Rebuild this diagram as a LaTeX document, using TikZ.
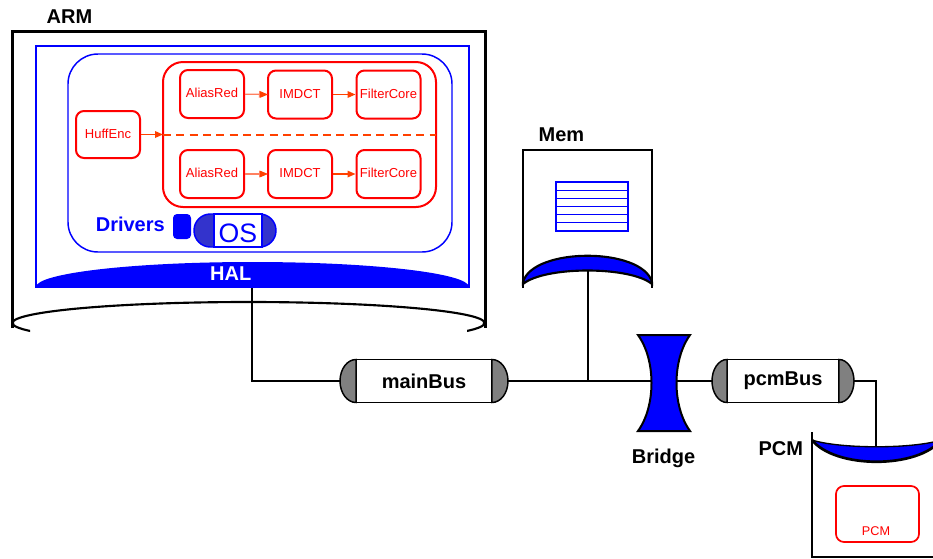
\documentclass[tikz,border=0pt]{standalone}
\usepackage{fontspec}
\setmainfont{Liberation Sans}
\usetikzlibrary{arrows.meta}
\pgfdeclarelayer{bg}
\pgfsetlayers{bg,main}
\definecolor{rd}{RGB}{255,0,0}
\definecolor{arrc}{RGB}{255,64,0}
\definecolor{arrlight}{RGB}{255,128,96}
\definecolor{bl}{RGB}{0,0,255}
\definecolor{osfill}{RGB}{51,51,204}
\definecolor{capgray}{RGB}{128,128,128}
\begin{document}
\begin{tikzpicture}[x=0.75pt,y=-0.75pt,
  lbl/.style={font=\bfseries\fontsize{15}{18}\selectfont, anchor=base, inner sep=0},
  redbox/.style={draw=rd, line width=1.5pt, rounded corners=6pt, minimum width=48pt, minimum height=36pt, inner sep=0, text=rd, font=\fontsize{9.75}{11}\selectfont, text depth=1.5pt},
  arr/.style={draw=arrc, line width=0.9pt, -{Triangle[length=6pt,width=5pt]}},
  wire/.style={draw=black, line width=1.1pt},
  busmid/.style={draw=black, fill=white, line width=1.1pt, minimum height=32.25pt, inner sep=0, font=\bfseries\fontsize{15}{18}\selectfont},
  buscap/.style={draw=black, fill=capgray, line width=1.1pt},
  lens/.style={fill=bl, draw=black, line width=1.6pt},
]
\useasboundingbox (0,0) rectangle (933,558);
\begin{pgfonlayer}{bg}
\fill[white] (0,0) rectangle (933,558);
\end{pgfonlayer}
\clip (0,0) rectangle (933,558);

% ---------- ARM ----------
\node[lbl] (armlbl) at (69.5,23.3) {ARM};
\draw[line width=2.25pt] (12,328) -- (12,31) -- (485,31) -- (485,328);
\begin{scope}
  \clip (0,0) rectangle (933,323);
  \draw[line width=1.6pt] (248.5,323) ellipse [x radius=177pt, y radius=15.75pt];
\end{scope}
\begin{scope}
  \clip (0,323) rectangle (30,340) (467,323) rectangle (500,340);
  \draw[line width=1.6pt] (248.5,323) ellipse [x radius=177pt, y radius=15.75pt];
\end{scope}

\draw[bl, line width=1.9pt] (36,46) rectangle (469,287);
\fill[bl] (36,287) .. controls (36,273.2) and (132.9,262) .. (252.5,262)
  .. controls (372.1,262) and (469,273.2) .. (469,287) -- cycle;
\node[lbl, text=white] (hal) at (230.8,280.5) {HAL};
\coordinate (halport) at (252,287);

\draw[bl, line width=1.1pt, rounded corners=22.5pt] (68,54) rectangle (452,252);
\draw[rd, line width=1.5pt, rounded corners=15pt] (163,62) rectangle (436,207);

\node[redbox, minimum height=35.25pt] (huff) at (108,134.5) {HuffEnc};
\coordinate (split) at (163,134.5);
\draw[arrc, line width=1.5pt, dash pattern=on 6pt off 4pt] (split) -- (436,134.5);
\draw[arr] (huff) -- (split);

\node[redbox] (ar1) at (212,94) {AliasRed};
\node[redbox] (im1) at (300,94.5) {IMDCT};
\node[redbox] (fc1) at (388.5,94.5) {FilterCore};
\node[redbox] (ar2) at (212,174) {AliasRed};
\node[redbox] (im2) at (300,174) {IMDCT};
\node[redbox] (fc2) at (388.5,174) {FilterCore};
\draw[arr, draw=arrlight] (ar1) -- (im1);
\draw[arr] (im1) -- (fc1);
\draw[arr, draw=arrlight] (ar2) -- (im2);
\draw[arr] (im2) -- (fc2);
\fill[arrc] (268,94.5) -- ++(-8,-3.3) -- ++(0,6.6) -- cycle;
\fill[arrc] (268,174) -- ++(-8,-3.3) -- ++(0,6.6) -- cycle;

\node[lbl, text=bl] (drivers) at (130.3,231.7) {Drivers};
\fill[bl, rounded corners=3pt] (173,214) rectangle (191,239);
\draw[bl, fill=osfill, line width=1.1pt, rounded corners=12.3pt] (194,214) rectangle (276,247);
\draw[bl, fill=white, line width=1pt] (214,214) rectangle (262,247);
\node[anchor=base, inner sep=0, text=bl, font=\fontsize{20}{24}\selectfont] (os) at (238,242) {OS};

% ---------- Mem ----------
\node[lbl] (memlbl) at (561.5,141.5) {Mem};
\draw[line width=1.9pt] (523,288) -- (523,150) -- (652,150) -- (652,288);
\draw[bl, line width=1.1pt] (556,182) rectangle (628,231);
\foreach \yy in {190.2,198.3,206.5,214.7,222.8}
  \draw[bl, line width=0.9pt] (556,\yy) -- (628,\yy);
\draw[lens] (523,282) .. controls (533,247) and (642,247) .. (652,282)
  -- (652,284) .. controls (630,266) and (545,266) .. (523,284) -- cycle;
\coordinate (memport) at (588,271);

% ---------- buses ----------
\node[busmid, minimum width=102pt] (mainbus) at (424,381) {mainBus};
\draw[buscap] (356,359.5) .. controls (347.16,359.5) and (340,369.13) .. (340,381)
  .. controls (340,392.87) and (347.16,402.5) .. (356,402.5) -- cycle;
\draw[buscap] (492,359.5) .. controls (500.84,359.5) and (508,369.13) .. (508,381)
  .. controls (508,392.87) and (500.84,402.5) .. (492,402.5) -- cycle;

\node[busmid, minimum width=84pt] (pcmbus) at (783,381) {pcmBus};
\draw[buscap] (727,359.5) .. controls (718.72,359.5) and (712,369.13) .. (712,381)
  .. controls (712,392.87) and (718.72,402.5) .. (727,402.5) -- cycle;
\draw[buscap] (839,359.5) .. controls (847.28,359.5) and (854,369.13) .. (854,381)
  .. controls (854,392.87) and (847.28,402.5) .. (839,402.5) -- cycle;

% ---------- Bridge ----------
\coordinate (bridge) at (664,381);
\draw[fill=bl, draw=black, line width=1.5pt] (638,335) -- (690,335)
  .. controls (672,360) and (672,406) .. (690,431) -- (638,431)
  .. controls (656,406) and (656,360) .. (638,335) -- cycle;
\node[lbl] (bridgelbl) at (663.5,463.5) {Bridge};

% ---------- PCM ----------
\node[lbl] (pcmlbl) at (780.8,455.7) {PCM};
\draw[line width=1.9pt] (812,432) -- (812,557) -- (941,557) -- (941,432);
\fill[bl] (812,440) .. controls (840,449) and (913,449) .. (941,440)
  .. controls (918,469) and (835,469) .. (812,440) -- cycle;
\draw[line width=1pt] (812,440) .. controls (840,449) and (913,449) .. (941,440);
\draw[line width=2pt] (812,440) .. controls (835,469) and (918,469) .. (941,440);
\coordinate (pcmport) at (876,447);
\draw[rd, line width=1.3pt, rounded corners=6pt] (836,486) rectangle (919,542);
\node[anchor=base, inner sep=0, text=rd, font=\fontsize{9.5}{11}\selectfont] (pcmcore) at (876,535) {PCM};

% ---------- connectors ----------
\begin{pgfonlayer}{bg}
\draw[wire] (halport) |- (mainbus);
\draw[wire] (mainbus) -- (bridge) -- (pcmbus);
\draw[wire] (memport) -- (memport |- mainbus);
\draw[wire] (pcmbus) -| (pcmport);
\end{pgfonlayer}
\end{tikzpicture}
\end{document}
